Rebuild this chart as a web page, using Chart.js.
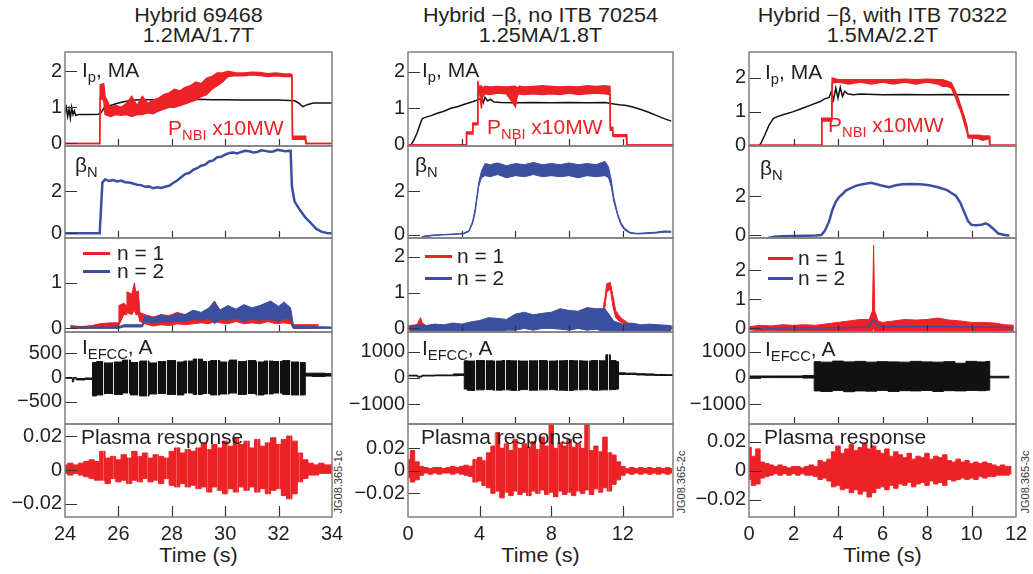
<!DOCTYPE html>
<html><head><meta charset="utf-8">
<script src="https://cdn.jsdelivr.net/npm/chart.js@4.4.1/dist/chart.umd.min.js"></script>
<style>
body{margin:0;background:#fff}
#root{position:relative;width:1033px;height:574px;overflow:hidden;background:#fff;font-family:'Liberation Sans',Arial,sans-serif;color:#231f20}
canvas{position:absolute}
.tx{position:absolute;white-space:nowrap;font-size:20px;line-height:22px;z-index:5;transform:scaleX(1.05);transform-origin:0 50%}
.s{font-size:14px;position:relative;top:5px}
.ttl{position:absolute;text-align:center;font-size:20px;line-height:20px;white-space:nowrap;transform:scaleX(1.08)}
.jg{position:absolute;width:80px;height:14px;line-height:14px;font-size:11px;text-align:center;transform:rotate(-90deg);color:#333}
.lg{position:absolute;height:3px;z-index:5}
</style></head><body><div id="root">
<div class="ttl" style="left:65px;width:267px;top:5px">Hybrid 69468<br>1.2MA/1.7T</div>
<div class="ttl" style="left:408px;width:265px;top:5px">Hybrid &minus;&beta;, no ITB 70254<br>1.25MA/1.8T</div>
<div class="ttl" style="left:749px;width:267px;top:5px">Hybrid &minus;&beta;, with ITB 70322<br>1.5MA/2.2T</div>
<div class="ttl" style="left:65px;width:267px;top:545px">Time (s)</div>
<div class="ttl" style="left:408px;width:265px;top:545px">Time (s)</div>
<div class="ttl" style="left:749px;width:267px;top:545px">Time (s)</div>
<div class="jg" style="left:298px;top:475px">JG08.365-1c</div>
<div class="jg" style="left:641px;top:475px">JG08.365-2c</div>
<div class="jg" style="left:985px;top:475px">JG08.365-3c</div>

<div class="tx" style="left:82px;top:59px">I<span class="s">p</span>, MA</div>
<div class="tx" style="left:168px;top:117px;color:#ec2227">P<span class="s">NBI</span> x10MW</div>
<div class="tx" style="left:75px;top:154px">&beta;<span class="s">N</span></div>
<div class="lg" style="left:83px;top:252px;width:27px;background:#ec2227"></div>
<div class="tx" style="left:117px;top:242px">n = 1</div>
<div class="lg" style="left:83px;top:270px;width:27px;background:#3b4fa1"></div>
<div class="tx" style="left:117px;top:260px">n = 2</div>
<div class="tx" style="left:82px;top:336px">I<span class="s">EFCC</span>, A</div>
<div class="tx" style="left:81px;top:426px">Plasma response</div>

<div class="tx" style="left:422px;top:59px">I<span class="s">p</span>, MA</div>
<div class="tx" style="left:487px;top:116px;color:#ec2227">P<span class="s">NBI</span> x10MW</div>
<div class="tx" style="left:415px;top:154px">&beta;<span class="s">N</span></div>
<div class="lg" style="left:425px;top:255px;width:27px;background:#ec2227"></div>
<div class="tx" style="left:457px;top:245px">n = 1</div>
<div class="lg" style="left:425px;top:277px;width:27px;background:#3b4fa1"></div>
<div class="tx" style="left:457px;top:267px">n = 2</div>
<div class="tx" style="left:422px;top:337px">I<span class="s">EFCC</span>, A</div>
<div class="tx" style="left:421px;top:426px">Plasma response</div>

<div class="tx" style="left:765px;top:61px">I<span class="s">p</span>, MA</div>
<div class="tx" style="left:828px;top:114px;color:#ec2227">P<span class="s">NBI</span> x10MW</div>
<div class="tx" style="left:760px;top:157px">&beta;<span class="s">N</span></div>
<div class="lg" style="left:768px;top:257px;width:25px;background:#ec2227"></div>
<div class="tx" style="left:798px;top:247px">n = 1</div>
<div class="lg" style="left:768px;top:277px;width:25px;background:#3b4fa1"></div>
<div class="tx" style="left:798px;top:267px">n = 2</div>
<div class="tx" style="left:765px;top:338px">I<span class="s">EFCC</span>, A</div>
<div class="tx" style="left:764px;top:426px">Plasma response</div>
</div>
<script>
// ---------- Column 1 : Hybrid 69468 ----------
const c1IpT=[24.0,24.05,24.1,24.15,24.2,24.25,24.3,24.35,24.4,24.5,24.7,25.0,25.25,25.35,25.5,25.7,26.0,26.3,26.6,27.0,27.5,28,28.5,29,29.5,30,30.5,31,31.5,32,32.4,32.6,32.75,32.9,33.1,33.3,33.6,34.0];
const c1Ip=[0.85,1.0,0.75,0.95,0.7,1.0,0.8,0.9,0.78,0.8,0.8,0.8,0.81,0.85,1.02,1.05,1.12,1.17,1.2,1.21,1.21,1.22,1.21,1.22,1.21,1.21,1.2,1.2,1.2,1.2,1.19,1.18,1.12,1.02,1.08,1.12,1.12,1.12];
const c1PnT=[24.0,25.3,25.32,25.45,25.5,25.7,25.9,26.1,26.3,26.5,26.7,26.9,27.1,27.3,27.5,27.7,27.9,28.1,28.3,28.5,28.7,28.9,29.1,29.3,29.5,29.7,29.9,30.1,30.4,30.7,31.0,31.3,31.6,31.9,32.2,32.45,32.5,32.52,33.0,33.02,34.0];
const c1PnHi=[0,0,1.62,1.65,1.3,1.0,1.05,1.0,1.1,1.3,1.05,1.3,1.1,1.2,1.25,1.35,1.4,1.5,1.45,1.55,1.6,1.7,1.65,1.8,1.85,1.95,1.95,2.0,1.95,1.95,1.97,1.96,1.93,1.95,1.92,1.92,1.9,0.2,0.2,0,0];
const c1PnLo=[0,0,1.25,1.2,0.8,0.75,0.8,0.78,0.8,0.75,0.8,0.8,0.85,0.82,0.9,0.95,1.0,1.0,1.05,1.1,1.15,1.2,1.3,1.35,1.5,1.6,1.7,1.85,1.88,1.87,1.9,1.88,1.85,1.87,1.85,1.86,1.84,0.12,0.12,0,0];
const c1BnT=[24,25.3,25.35,25.4,25.5,25.65,25.8,25.95,26.1,26.25,26.4,26.55,26.7,26.85,27.0,27.15,27.3,27.45,27.6,27.75,27.9,28.05,28.2,28.35,28.5,28.65,28.8,28.95,29.1,29.25,29.4,29.55,29.7,29.85,30.0,30.15,30.3,30.45,30.6,30.75,30.9,31.05,31.2,31.35,31.5,31.65,31.8,31.95,32.1,32.25,32.4,32.45,32.5,32.6,32.8,33.0,33.2,33.4,33.6,33.8,34.0];
const c1Bn=[0,0,1.2,2.4,2.55,2.48,2.52,2.45,2.5,2.42,2.4,2.36,2.3,2.28,2.2,2.22,2.13,2.18,2.15,2.2,2.25,2.38,2.5,2.65,2.8,2.85,3.0,3.08,3.2,3.25,3.4,3.45,3.6,3.62,3.72,3.8,3.82,3.78,3.85,3.9,3.88,3.82,3.85,3.93,3.9,3.86,3.87,3.95,3.92,3.88,3.9,3.9,2.2,1.5,1.1,0.75,0.5,0.22,0.08,0.02,0.0];
const c1N1T=[24.2,24.6,25.0,25.3,25.7,26.0,26.02,26.2,26.3,26.32,26.5,26.6,26.65,26.75,26.8,27.0,27.3,27.6,27.9,28.2,28.5,28.8,29.1,29.4,29.6,29.8,30.1,30.4,30.7,31.0,31.3,31.6,31.9,32.2,32.45,32.55,33.0,33.5];
const c1N1Hi=[0.06,0.04,0.06,0.1,0.12,0.12,0.5,0.55,0.5,0.8,0.75,1.0,0.8,0.82,0.35,0.3,0.25,0.3,0.28,0.35,0.3,0.38,0.32,0.45,0.6,0.4,0.48,0.38,0.5,0.42,0.48,0.4,0.5,0.42,0.4,0.08,0.08,0.08];
const c1N1Lo=[0,0,0,0.02,0.02,0.05,0.05,0.3,0.3,0.35,0.3,0.4,0.3,0.3,0.15,0.1,0.05,0.08,0.06,0.1,0.08,0.1,0.12,0.1,0.15,0.12,0.1,0.15,0.1,0.12,0.1,0.15,0.1,0.12,0.1,0,0,0];
const c1N2T=[24.2,26.0,26.2,26.9,27.0,27.3,27.6,27.9,28.2,28.5,28.8,29.1,29.4,29.6,29.8,30.1,30.4,30.7,31.0,31.3,31.7,32.0,32.2,32.45,32.55,33.0,34.0];
const c1N2Hi=[0.03,0.03,0.08,0.08,0.28,0.22,0.3,0.25,0.32,0.3,0.4,0.35,0.45,0.58,0.4,0.5,0.42,0.52,0.45,0.5,0.6,0.48,0.58,0.45,0.05,0.04,0.03];
const c1N2Lo=[0,0,0.03,0.03,0.15,0.12,0.15,0.14,0.16,0.15,0.2,0.18,0.22,0.1,0.2,0.18,0.22,0.15,0.2,0.18,0.2,0.15,0.22,0.2,0,0,0];
const c1EfT=[24.0,24.25,24.3,24.35,24.5,25.0,25.06,25.3,25.6,26.0,26.3,26.6,27.0,27.3,27.6,28.0,28.3,28.6,29.0,29.3,29.6,30.0,30.3,30.6,31.0,31.3,31.6,32.0,32.3,32.6,32.99,33.01,33.5,34.0];
const c1EfHi=[0,0,-20,0,-20,-10,310,330,300,320,360,310,340,300,330,350,320,340,380,330,350,320,360,330,350,320,340,330,350,320,310,90,90,80];
const c1EfLo=[-10,-10,-90,-30,-50,-40,-380,-360,-330,-350,-320,-360,-380,-340,-330,-350,-360,-320,-350,-330,-360,-340,-320,-350,-330,-360,-340,-320,-350,-360,-360,30,20,30];
const c1Stripes=[25.44,25.8,26.37,26.72,27.08,27.43,27.78,28.17,28.56,28.93,29.3,29.68,30.06,30.43,30.8,31.2,31.6,32.0,32.43,32.75];
const c1PrT=[24,24.2,24.4,24.6,24.8,25,25.2,25.4,25.6,25.8,26,26.2,26.4,26.6,26.8,27,27.2,27.4,27.6,27.8,28,28.2,28.4,28.6,28.8,29,29.2,29.4,29.6,29.8,30,30.2,30.4,30.6,30.8,31,31.2,31.4,31.6,31.8,32,32.2,32.4,32.6,32.8,33,33.2,33.4,33.6,33.8,34];
const c1PrHi=[.003,.004,.003,.004,.005,.006,.005,.011,.007,.008,.006,.009,.007,.011,.008,.010,.007,.009,.008,.007,.011,.013,.010,.012,.011,.013,.016,.012,.015,.013,.017,.014,.019,.015,.017,.013,.018,.014,.016,.019,.015,.018,.020,.017,.010,.006,.004,.003,.004,.003,.003];
const c1PrLo=[-.002,-.003,-.002,-.003,-.004,-.005,-.006,-.006,-.008,-.005,-.007,-.006,-.008,-.006,-.007,-.005,-.007,-.006,-.008,-.005,-.009,-.010,-.008,-.010,-.009,-.011,-.010,-.013,-.010,-.012,-.014,-.011,-.013,-.010,-.012,-.010,-.013,-.011,-.014,-.012,-.011,-.015,-.017,-.014,-.007,-.005,-.003,-.003,-.002,-.002,-.002];

// ---------- Column 2 : Hybrid -beta, no ITB 70254 ----------
const c2IpT=[0,0.15,0.3,0.5,0.7,0.8,1.0,1.3,1.6,2.0,2.4,2.8,3.2,3.6,3.9,4.1,4.2,4.3,4.45,4.6,4.8,5.2,6,7,8,9,10,11,11.5,11.8,12.2,12.6,13.0,13.4,13.8,14.2,14.7];
const c2Ip=[-0.02,0,0.1,0.32,0.6,0.72,0.76,0.8,0.86,0.92,1.0,1.05,1.12,1.18,1.23,1.28,1.15,1.3,1.2,1.25,1.17,1.16,1.15,1.16,1.15,1.16,1.15,1.16,1.12,1.1,1.08,1.03,0.97,0.9,0.82,0.74,0.65];
const c2PnT=[0,3.25,3.27,3.6,3.62,3.88,3.9,3.95,4.0,4.1,4.15,4.3,4.6,5.0,5.5,6.0,6.1,6.2,6.5,7,7.5,8,8.5,9,9.5,10,10.5,11,11.28,11.3,11.43,11.45,12.2,12.22,14.8];
const c2PnHi=[0,0,0.35,0.35,0.6,0.6,1.75,1.6,1.6,1.62,1.55,1.6,1.58,1.6,1.58,1.6,1.55,1.6,1.58,1.6,1.62,1.6,1.58,1.6,1.58,1.62,1.6,1.62,1.6,0.48,0.48,0.28,0.28,0,0];
const c2PnLo=[0,0,0.3,0.3,0.55,0.55,1.3,1.4,1.45,1.0,1.3,1.4,1.38,1.42,1.4,1.05,1.35,1.4,1.38,1.4,1.38,1.4,1.38,1.42,1.38,1.4,1.42,1.4,1.38,0.4,0.4,0.23,0.23,0,0];
const c2BnT=[0.75,0.9,1.4,2.0,2.6,3.1,3.4,3.6,3.75,3.85,3.95,4.1,4.3,4.6,5,5.5,6,6.5,7,7.5,8,8.5,9,9.5,10,10.5,11,11.2,11.35,11.5,11.7,11.9,12.1,12.4,12.8,13.3,13.8,14.3,14.7];
const c2BnHi=[-0.1,-0.05,0,0.02,0.05,0.08,0.2,0.6,1.2,1.8,2.4,2.9,3.25,3.2,3.28,3.15,3.25,3.2,3.3,3.2,3.25,3.2,3.28,3.2,3.25,3.2,3.35,3.1,2.5,1.7,1.0,0.55,0.3,0.12,0.07,0.1,0.12,0.18,0.17];
const c2BnLo=[-0.15,-0.1,-0.03,0,0.02,0.05,0.15,0.5,1.0,1.6,2.2,2.6,2.7,2.65,2.75,2.6,2.7,2.65,2.75,2.65,2.7,2.65,2.7,2.6,2.7,2.65,2.7,2.6,2.2,1.5,0.9,0.45,0.22,0.08,0.04,0.06,0.08,0.12,0.12];
const c2N1T=[0,0.5,0.7,0.8,1.0,2,3,3.5,4,5,6,7,8,9,10,10.8,11.0,11.1,11.3,11.45,11.6,11.8,12,12.3,12.6,13,14,14.8];
const c2N1Hi=[0.08,0.1,0.3,0.15,0.08,0.08,0.1,0.1,0.15,0.15,0.2,0.2,0.2,0.25,0.25,0.3,0.85,1.25,1.28,0.9,0.5,0.35,0.25,0.15,0.05,0.05,0.05,0.05];
const c2N1Lo=[-0.05,-0.02,0.1,0.05,-0.02,-0.03,-0.02,-0.02,0,0,0.02,0.05,0.05,0.05,0.05,0.08,0.6,1.0,1.1,0.6,0.3,0.2,0.15,0.05,0,-0.02,-0.02,-0.02];
const c2N2T=[0.1,0.5,1,1.5,2,2.5,3,3.5,4,4.5,5,5.5,6,6.5,7,7.5,8,8.5,9,9.5,10,10.5,11,11.5,12,12.5,13,13.5,14,14.7];
const c2N2Hi=[0.05,0.1,0.08,0.12,0.1,0.15,0.12,0.18,0.22,0.3,0.28,0.25,0.4,0.45,0.38,0.42,0.45,0.55,0.5,0.48,0.58,0.55,0.55,0.2,0.12,0.15,0.1,0.12,0.1,0.08];
const c2N2Lo=[-0.08,-0.12,-0.1,-0.15,-0.1,-0.12,-0.15,-0.12,-0.1,-0.08,-0.1,-0.05,-0.05,0,-0.05,0,0,-0.02,-0.05,0,-0.05,-0.02,-0.1,-0.12,-0.12,-0.15,-0.1,-0.15,-0.12,-0.1];
const c2EfT=[0,0.5,0.55,1.0,2.0,2.5,2.55,3.0,3.13,3.15,3.5,4,4.5,5,5.5,6,6.5,7,7.5,8,8.5,9,9.5,10,10.5,11,11.1,11.5,11.75,11.77,12.5,13,13.5,14,14.8];
const c2EfHi=[100,100,60,100,110,110,150,150,150,650,640,660,650,640,660,650,640,650,660,640,650,660,650,640,660,650,880,660,620,190,180,160,150,130,120];
const c2EfLo=[70,70,30,70,80,80,80,90,90,-430,-480,-460,-450,-470,-460,-480,-450,-470,-460,-450,-470,-480,-460,-450,-470,-460,-460,-450,-430,130,130,110,100,90,90];
const c2Stripes=[3.74,4.3,4.86,5.42,6.07,6.72,7.28,7.84,8.4,8.96,9.5,10.07,10.63,11.19];
const c2PrT=[0,0.25,0.5,0.75,1,1.25,1.5,1.75,2,2.25,2.5,2.75,3,3.25,3.5,3.75,4,4.25,4.5,4.75,5,5.25,5.5,5.75,6,6.25,6.5,6.75,7,7.25,7.5,7.75,8,8.25,8.5,8.75,9,9.25,9.5,9.75,10,10.25,10.5,10.75,11,11.25,11.5,11.75,12,12.25,12.5,12.75,13,13.25,13.5,13.75,14,14.25,14.5,14.75];
const c2PrHi=[.010,.018,.008,.004,.003,.002,.003,.003,.002,.003,.004,.003,.004,.005,.004,.010,.012,.009,.016,.022,.034,.020,.024,.018,.028,.020,.024,.021,.026,.019,.030,.022,.044,.020,.025,.022,.028,.021,.024,.020,.041,.018,.022,.017,.030,.016,.014,.008,.004,.002,.003,.002,.003,.002,.003,.002,.003,.002,.003,.002];
const c2PrLo=[-.006,-.010,-.008,-.004,-.002,-.003,-.002,-.003,-.002,-.002,-.003,-.002,-.003,-.004,-.005,-.010,-.009,-.013,-.015,-.020,-.018,-.024,-.019,-.022,-.018,-.021,-.019,-.022,-.018,-.020,-.017,-.021,-.019,-.023,-.018,-.021,-.019,-.022,-.018,-.020,-.017,-.021,-.016,-.019,-.015,-.018,-.012,-.008,-.004,-.002,-.003,-.002,-.003,-.002,-.003,-.002,-.003,-.002,-.003,-.002];

// ---------- Column 3 : Hybrid -beta, with ITB 70322 ----------
const c3IpT=[0,0.45,0.55,0.7,0.9,1.1,1.3,1.6,2.0,2.4,2.8,3.2,3.4,3.6,3.7,3.8,3.9,4.0,4.1,4.2,4.3,4.45,4.7,5,6,7,8,9,10,11,11.7];
const c3Ip=[-0.03,-0.02,0.08,0.29,0.6,0.8,0.86,0.92,1.0,1.1,1.2,1.3,1.38,1.42,1.6,1.35,1.7,1.4,1.72,1.45,1.6,1.52,1.5,1.52,1.5,1.51,1.5,1.51,1.5,1.5,1.5];
const c3PnT=[0,3.25,3.27,3.72,3.74,4.0,4.5,5,5.5,6,6.5,7,7.5,8,8.5,8.7,8.9,9.1,9.2,9.3,9.4,9.5,9.6,9.7,9.8,9.85,10.3,10.5,10.8,10.82,12];
const c3PnHi=[0,0,0.8,0.8,2.0,1.95,1.95,1.95,1.95,1.95,1.95,1.96,1.95,1.96,1.95,1.95,1.9,1.85,1.7,1.55,1.4,1.2,1.0,0.8,0.55,0.3,0.3,0.28,0.28,0,0];
const c3PnLo=[0,0,0.72,0.72,1.85,1.88,1.82,1.88,1.82,1.88,1.82,1.88,1.82,1.88,1.82,1.75,1.75,1.7,1.55,1.4,1.2,1.05,0.85,0.6,0.4,0.22,0.2,0.15,0.2,0,0];
const c3BnT=[0.85,1.15,1.5,2,2.5,3.0,3.25,3.4,3.6,3.75,3.9,4.05,4.2,4.35,4.6,4.8,5.1,5.5,5.9,6.3,6.6,6.9,7.3,7.7,8.1,8.5,8.9,9.1,9.3,9.5,9.7,9.85,10.0,10.2,10.45,10.65,10.8,11.0,11.2,11.5,11.7];
const c3Bn=[-0.15,-0.08,-0.06,-0.05,-0.04,-0.02,0,0.2,0.7,1.3,1.7,1.95,2.1,2.28,2.42,2.52,2.6,2.68,2.55,2.45,2.55,2.6,2.62,2.6,2.55,2.45,2.3,2.15,2.0,1.65,1.1,0.7,0.52,0.5,0.53,0.6,0.5,0.3,0.08,0.0,-0.02];
const c3N1T=[0,0.5,1,1.5,2,2.5,3,3.5,4,4.5,5,5.4,5.55,5.6,5.65,5.8,6,6.5,7,7.5,8,8.5,9,9.5,10,10.5,11,11.5,11.9];
const c3N1Hi=[0.05,0.1,0.08,0.12,0.1,0.12,0.1,0.15,0.2,0.25,0.3,0.3,0.6,2.85,0.6,0.25,0.2,0.25,0.3,0.28,0.3,0.35,0.28,0.25,0.2,0.2,0.18,0.12,0.1];
const c3N1Lo=[-0.05,-0.1,-0.08,-0.1,-0.12,-0.1,-0.15,-0.2,-0.15,-0.2,-0.18,-0.15,-0.1,0.0,-0.1,-0.15,-0.2,-0.18,-0.2,-0.15,-0.18,-0.2,-0.15,-0.2,-0.18,-0.15,-0.2,-0.15,-0.1];
const c3N2T=[0,1,2,3,4,5,5.4,5.55,5.65,5.8,6,7,8,9,10,11,11.9];
const c3N2=[0,0,0.01,0.01,0.02,0.03,0.05,0.3,0.25,0.08,0.05,0.05,0.06,0.05,0.04,0.03,0.02];
const c3EfT=[0,2.4,2.42,2.92,2.94,3.5,4,4.5,5,5.5,6,6.5,7,7.5,8,8.5,9,9.5,10,10.5,10.81,10.83,11.7];
const c3EfHi=[70,70,90,90,620,600,640,610,630,600,620,610,600,630,610,600,620,560,630,610,630,60,60];
const c3EfLo=[10,10,-10,-10,-500,-520,-480,-530,-500,-510,-480,-520,-490,-500,-480,-520,-490,-500,-480,-490,-470,0,0];
const c3PrT=[0,0.2,0.4,0.6,0.8,1,1.2,1.4,1.6,1.8,2,2.2,2.4,2.6,2.8,3,3.2,3.4,3.6,3.8,4,4.2,4.4,4.6,4.8,5,5.2,5.4,5.6,5.8,6,6.2,6.4,6.6,6.8,7,7.2,7.4,7.6,7.8,8,8.2,8.4,8.6,8.8,9,9.2,9.4,9.6,9.8,10,10.2,10.4,10.6,10.8,11,11.2,11.4,11.6,11.8];
const c3PrHi=[.016,.010,.015,.006,.005,.004,.003,.004,.003,.002,.003,.003,.002,.003,.004,.003,.007,.006,.008,.013,.017,.012,.015,.018,.014,.016,.019,.015,.017,.014,.012,.015,.010,.013,.011,.009,.012,.008,.010,.009,.012,.008,.010,.009,.011,.007,.006,.008,.006,.007,.005,.006,.005,.006,.005,.004,.003,.004,.003,.003];
const c3PrLo=[-.006,-.010,-.009,-.005,-.004,-.003,-.002,-.003,-.002,-.003,-.002,-.003,-.002,-.003,-.003,-.004,-.006,-.005,-.007,-.011,-.010,-.013,-.012,-.015,-.013,-.016,-.014,-.018,-.015,-.012,-.011,-.013,-.010,-.012,-.009,-.010,-.008,-.011,-.009,-.008,-.010,-.007,-.009,-.008,-.010,-.006,-.007,-.006,-.005,-.006,-.005,-.006,-.004,-.005,-.004,-.004,-.003,-.003,-.003,-.002];

// ---------- axes (tick labels / marks) ----------
const XLAB=[[24,26,28,30,32,34],[0,4,8,12],[0,2,4,6,8,10,12]];
const XMARK_TOP=[[26,28,30,32],[3,6,9,12],[2,4,6,8,10]];
const XMARK_BOT=[[26,28,30,32],[4,8,12],[2,4,6,8,10]];

// ---------- layout ----------
const COLX=[[65,332],[408,673],[749,1016]];
const ROWY=[[52,146],[146,238],[238,332],[332,424],[424,517]];
const XR=[[24,34],[0,14.8],[0,12]];
const RED='#ec2227',BLUE='#3b4fa1',BLK='#111111';
Chart.defaults.font.family="'Liberation Sans', Arial, sans-serif";
const root=document.getElementById('root');
function xy(t,v){return t.map((x,i)=>({x:x,y:v[i]}));}
function line(t,v,c,w){return {data:xy(t,v),borderColor:c,borderWidth:w,fill:false,pointRadius:0,tension:0};}
function band(t,hi,lo,c,w,st){return [
 {data:xy(t,hi),borderColor:c,backgroundColor:c,borderWidth:w,fill:'+1',pointRadius:0,tension:0,stepped:st||false},
 {data:xy(t,lo),borderColor:c,backgroundColor:c,borderWidth:w,fill:false,pointRadius:0,tension:0,stepped:st||false}];}
const fmt=v=>(v<0?'\u2212':'')+Math.abs(v);
function mk(c,r,yr,yt,ds,stripes,sAlpha){
  const L=COLX[c][0],R=COLX[c][1],T=ROWY[r][0],B=ROWY[r][1],bot=(r===4);
  const w=R-L+84,h=B-T+(bot?54:40);
  const cv=document.createElement('canvas');
  cv.width=w;cv.height=h;
  cv.style.left=(L-64)+'px';cv.style.top=(T-20)+'px';cv.style.width=w+'px';cv.style.height=h+'px';
  root.appendChild(cv);
  const xm=bot?XMARK_BOT[c]:XMARK_TOP[c],xl=bot?11:7;
  const fr={id:'frame'+c+'_'+r,afterDatasetsDraw(ch){
    const g=ch.ctx,a=ch.chartArea,X=ch.scales.x,Y=ch.scales.y;
    g.save();
    if(stripes){g.strokeStyle='rgba(255,255,255,'+sAlpha+')';g.lineWidth=1;g.beginPath();
      stripes.forEach(v=>{const p=Math.round(X.getPixelForValue(v))+0.5;g.moveTo(p,a.top+2);g.lineTo(p,a.bottom-2);});g.stroke();}
    g.strokeStyle='#333';g.lineWidth=1.2;g.beginPath();
    yt.forEach(v=>{const p=Math.round(Y.getPixelForValue(v))+0.5;g.moveTo(a.left,p);g.lineTo(a.left+12,p);});
    xm.forEach(v=>{const p=Math.round(X.getPixelForValue(v))+0.5;g.moveTo(p,a.bottom);g.lineTo(p,a.bottom-xl);});
    g.stroke();g.strokeStyle='#808080';g.lineWidth=1.5;
    g.strokeRect(a.left,a.top,a.right-a.left,a.bottom-a.top);g.restore();}};
  new Chart(cv,{type:'line',data:{datasets:ds},plugins:[fr],options:{
    responsive:false,animation:false,devicePixelRatio:1,events:[],
    layout:{padding:{top:20,right:20,bottom:bot?0:20,left:0}},
    plugins:{legend:{display:false},tooltip:{enabled:false}},
    scales:{
      x:{type:'linear',min:XR[c][0],max:XR[c][1],display:bot,
        grid:{display:false,drawTicks:false},border:{display:false},
        ticks:{autoSkip:false,maxRotation:0,padding:5,color:'#231f20',font:{size:20},callback:v=>String(v)},
        afterBuildTicks:s=>{s.ticks=XLAB[c].map(v=>({value:v}));},
        afterFit:s=>{if(bot)s.height=34;}},
      y:{type:'linear',min:yr[0],max:yr[1],
        grid:{display:false,drawTicks:false},border:{display:false},
        ticks:{padding:3,color:'#231f20',font:{size:20},callback:fmt},
        afterBuildTicks:s=>{s.ticks=yt.map(v=>({value:v}));},
        afterFit:s=>{s.width=64;}}
    }}});
}
// column 1
mk(0,0,[-0.07,2.53],[0,1,2],[...band(c1PnT,c1PnHi,c1PnLo,RED,1.5),line(c1IpT,c1Ip,BLK,1.5)]);
mk(0,1,[-0.22,4.13],[0,2],[line(c1BnT,c1Bn,BLUE,2.5)]);
mk(0,2,[-0.08,1.98],[0,1],[...band(c1N2T,c1N2Hi,c1N2Lo,BLUE,1),...band(c1N1T,c1N1Hi,c1N1Lo,RED,1)]);
mk(0,3,[-960,940],[-500,0,500],[...band(c1EfT,c1EfHi,c1EfLo,BLK,1,'middle')],c1Stripes,0.85);
mk(0,4,[-0.0277,0.0271],[-0.02,0,0.02],[...band(c1PrT,c1PrHi,c1PrLo,RED,1,'middle')],c1Stripes,0.25);
// column 2
mk(1,0,[-0.03,2.54],[0,1,2],[...band(c2PnT,c2PnHi,c2PnLo,RED,1.5),line(c2IpT,c2Ip,BLK,1.5)]);
mk(1,1,[-0.14,4.05],[0,2],[...band(c2BnT,c2BnHi,c2BnLo,BLUE,1)]);
mk(1,2,[-0.1,2.52],[0,1,2],[...band(c2N2T,c2N2Hi,c2N2Lo,BLUE,1),...band(c2N1T,c2N1Hi,c2N1Lo,RED,1)]);
mk(1,3,[-1765,1753],[-1000,0,1000],[...band(c2EfT,c2EfHi,c2EfLo,BLK,1,'middle')],c2Stripes,0.85);
mk(1,4,[-0.041,0.0416],[-0.02,0,0.02],[...band(c2PrT,c2PrHi,c2PrLo,RED,1,'middle')],c2Stripes,0.25);
// column 3
mk(2,0,[-0.02,2.77],[0,1,2],[...band(c3PnT,c3PnHi,c3PnLo,RED,1.5),line(c3IpT,c3Ip,BLK,1.5)]);
mk(2,1,[-0.15,4.56],[0,2],[line(c3BnT,c3Bn,BLUE,2.5)]);
mk(2,2,[-0.13,3.1],[0,1,2],[line(c3N2T,c3N2,BLUE,1.5),...band(c3N1T,c3N1Hi,c3N1Lo,RED,1)]);
mk(2,3,[-1765,1753],[-1000,0,1000],[...band(c3EfT,c3EfHi,c3EfLo,BLK,1,'middle')]);
mk(2,4,[-0.0317,0.0321],[-0.02,0,0.02],[...band(c3PrT,c3PrHi,c3PrLo,RED,1,'middle')]);
</script>
</body></html>
